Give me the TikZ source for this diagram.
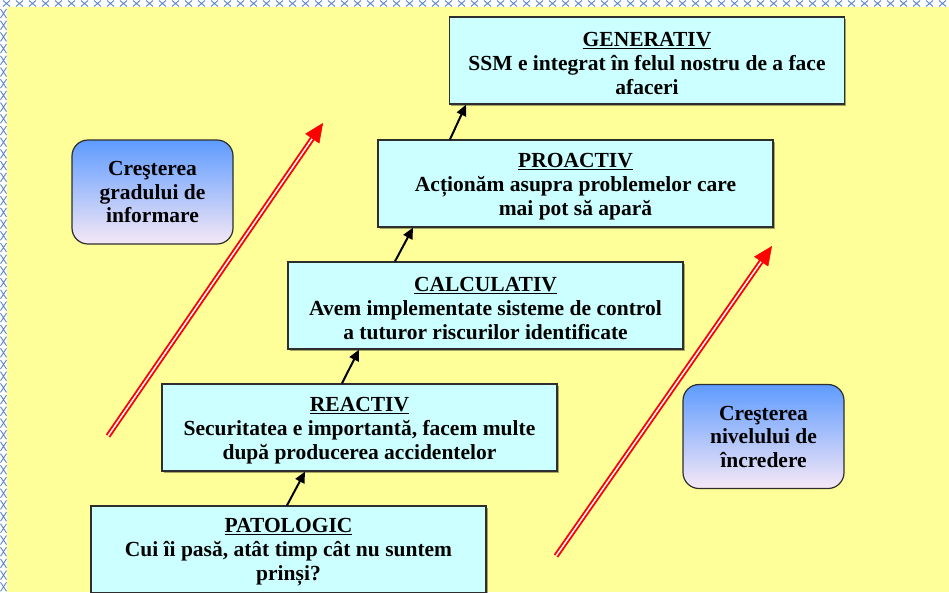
\documentclass[tikz,border=0pt]{standalone}
\usepackage{fontspec}
\setmainfont{Liberation Serif}
\usetikzlibrary{arrows.meta,calc,shadows}
\definecolor{bgyellow}{HTML}{FFFF99}
\definecolor{boxcyan}{HTML}{CCFFFF}
\definecolor{edgegray}{HTML}{2E2E2E}
\definecolor{xblue}{HTML}{5A85CC}
\definecolor{gradtop}{HTML}{5E9BFF}
\definecolor{gradbot}{HTML}{F6E8F6}
\definecolor{risered}{HTML}{FF0000}
% level title: underlined, with a little extra room above
\newcommand{\levtitle}[1]{\rule{0pt}{20pt}\underline{#1}}

\begin{document}
\begin{tikzpicture}[x=1pt,y=-1pt,
  level/.style={draw=edgegray, line width=1.3pt, fill=boxcyan,
    minimum width=395pt, minimum height=87pt, align=center, inner sep=0pt,
    font=\bfseries\fontsize{21.5}{24}\selectfont,
    drop shadow={shadow xshift=1.5pt, shadow yshift=-1.5pt, opacity=0.35, fill=black}},
  infobox/.style={draw=edgegray, line width=1.2pt, rounded corners=16pt,
    top color=gradtop, bottom color=gradbot,
    minimum width=161pt, minimum height=104pt, align=center, inner sep=0pt,
    font=\bfseries\fontsize{21.5}{23.5}\selectfont},
  conn/.style={draw=black, line width=2pt, -{Triangle[length=11pt,width=10pt]}},
  rise/.style={draw=risered, double=white, line width=1.9pt, double distance=1.5pt},
  risehead/.style={draw=risered, line width=0.5pt, -{Triangle[length=19pt,width=17pt]}, risered},
  xmark/.style={draw=xblue, line width=0.9pt}
]
% page frame and background
\useasboundingbox (0,0) rectangle (949,592);
\clip (0,0) rectangle (949,592);
\fill[white] (0,0) rectangle (949,592);
\fill[bgyellow] (7,7) rectangle (949,592);
% cross-stitch border strips
\foreach \i in {0,...,73}
  \draw[xmark] (\i*13+3,0.5) -- ++(7,6) (\i*13+3,6.5) -- ++(7,-6);
\foreach \j in {0,...,50}
  \draw[xmark] (0.5,\j*11.7+9) -- ++(6,9) (6.5,\j*11.7+9) -- ++(-6,9);

% maturity levels
\node[level] (gen) at (647,60.5) {\levtitle{GENERATIV}\\SSM e integrat în felul nostru de a face\\afaceri};
\node[level] (pro) at (575.5,183.5) {\levtitle{PROACTIV}\\Acționăm asupra problemelor care\\mai pot să apară};
\node[level] (cal) at (485.5,305.5) {\levtitle{CALCULATIV}\\Avem implementate sisteme de control\\a tuturor riscurilor identificate};
\node[level] (rea) at (359.5,427.5) {\levtitle{REACTIV}\\Securitatea e importantă, facem multe\\după producerea accidentelor};
\node[level] (pat) at (288.5,549.5) {\levtitle{PATOLOGIC}\\Cui îi pasă, atât timp cât nu suntem\\prinși?};

% steps between levels
\draw[conn] ([xshift=-1.5pt]pat.north) -- ([xshift=-54.5pt]rea.south);
\draw[conn] ([xshift=-17.5pt]rea.north) -- ([xshift=-126.5pt]cal.south);
\draw[conn] ([xshift=-90.5pt]cal.north) -- ([xshift=-162.5pt]pro.south);
\draw[conn] ([xshift=-125.5pt]pro.north) -- ([xshift=-181pt]gen.south);

% side notes
\node[infobox] (inf) at (152.5,192) {Creşterea\\gradului de\\informare};
\node[infobox] (inc) at (763.5,436.5) {Creşterea\\nivelului de\\încredere};

% rising double arrows
\coordinate (ra0) at (108,436);
\coordinate (ra1) at (323,123);
\coordinate (rb0) at (556,556);
\coordinate (rb1) at (772,246);
\draw[rise] (ra0) -- ($(ra1)!15pt!(ra0)$);
\path[risehead] ($(ra1)!17pt!(ra0)$) -- (ra1);
\draw[rise] (rb0) -- ($(rb1)!15pt!(rb0)$);
\path[risehead] ($(rb1)!17pt!(rb0)$) -- (rb1);
\end{tikzpicture}
\end{document}
